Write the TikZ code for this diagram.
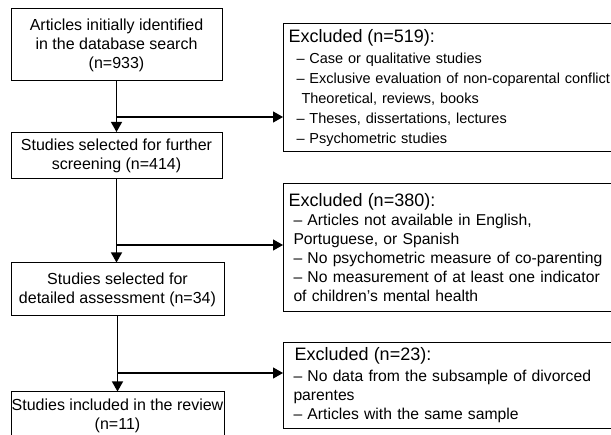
\documentclass[tikz,border=0pt]{standalone}
\usepackage{fontspec}
\setmainfont{Liberation Sans}
\usetikzlibrary{positioning}
\usetikzlibrary{arrows.meta}
\newcommand{\headfont}{\fontsize{18}{21}\selectfont}
\newcommand{\itemfont}{\fontsize{15.7}{19}\selectfont}
\newcommand{\smallitemfont}{\fontsize{14.5}{20}\selectfont}
\tikzset{
    stage/.style = {rectangle,draw,line width=1pt,inner sep=0pt,align=center,
        font=\fontsize{16}{19}\selectfont},
    excl/.style = {rectangle,draw,line width=1pt,inner sep=0pt,align=left,
        anchor=north west,minimum width=331pt,text width=331pt},
    flow/.style = {line width=1.2pt,-{Triangle[length=10pt,width=11pt]}}}
\begin{document}
\begin{tikzpicture}[x=1pt,y=-1pt]
        \useasboundingbox (0,0) rectangle (611,435);
        % stages of the selection
        \node[stage,minimum width=211pt,minimum height=72pt] (A) at (116.5,45)
            {Articles initially identified\\in the database search\\(n=933)};
        \node[stage,minimum width=211pt,minimum height=46pt] (S) at (116.5,155.5)
            {Studies selected for further\\screening (n=414)};
        \node[stage,minimum width=213pt,minimum height=53pt] (D) at (117.5,289.5)
            {Studies selected for\\detailed assessment (n=34)};
        \node[stage,minimum width=213pt,minimum height=48pt] (I) at (117.5,416)
            {Studies included in the review\\(n=11)};
        % exclusions
        \node[excl,minimum height=128pt,font=\smallitemfont] (E1) at (283,23)
            {\hspace*{5pt}{\headfont Excluded (n=519):}\\[1pt]
             \hspace*{13pt}– Case or qualitative studies\\
             \hspace*{13pt}– Exclusive evaluation of non-coparental conflict\\
             \hspace*{18pt}Theoretical, reviews, books\\
             \hspace*{13pt}– Theses, dissertations, lectures\\
             \hspace*{13pt}– Psychometric studies};
        \node[excl,minimum height=128pt,font=\itemfont] (E2) at (283,183)
            {\hspace*{5pt}{\headfont Excluded (n=380):}\\
             \hspace*{10pt}– Articles not available in English,\\
             \hspace*{10pt}Portuguese, or Spanish\\
             \hspace*{10pt}– No psychometric measure of co-parenting\\
             \hspace*{10pt}– No measurement of at least one indicator\\
             \hspace*{10pt}of children’s mental health};
        \node[excl,minimum height=86pt,font=\itemfont] (E3) at (283,342)
            {\hspace*{11pt}{\headfont Excluded (n=23):}\\[2pt]
             \hspace*{10pt}– No data from the subsample of divorced\\
             \hspace*{10pt}parentes\\
             \hspace*{10pt}– Articles with the same sample};
        % branch points
        \coordinate (b1) at (A.south |- 0,117);
        \coordinate (b2) at (S.south |- 0,245);
        \coordinate (b3) at (D.south |- 0,373);
        \draw[flow] (A.south) -- (A.south |- S.north);
        \draw[flow] (S.south) -- (S.south |- D.north);
        \draw[flow] (D.south) -- (D.south |- I.north);
        \draw[flow] (b1) -- (b1 -| E1.west);
        \draw[flow] (b2) -- (b2 -| E2.west);
        \draw[flow] (b3) -- (b3 -| E3.west);
\end{tikzpicture}
\end{document}
